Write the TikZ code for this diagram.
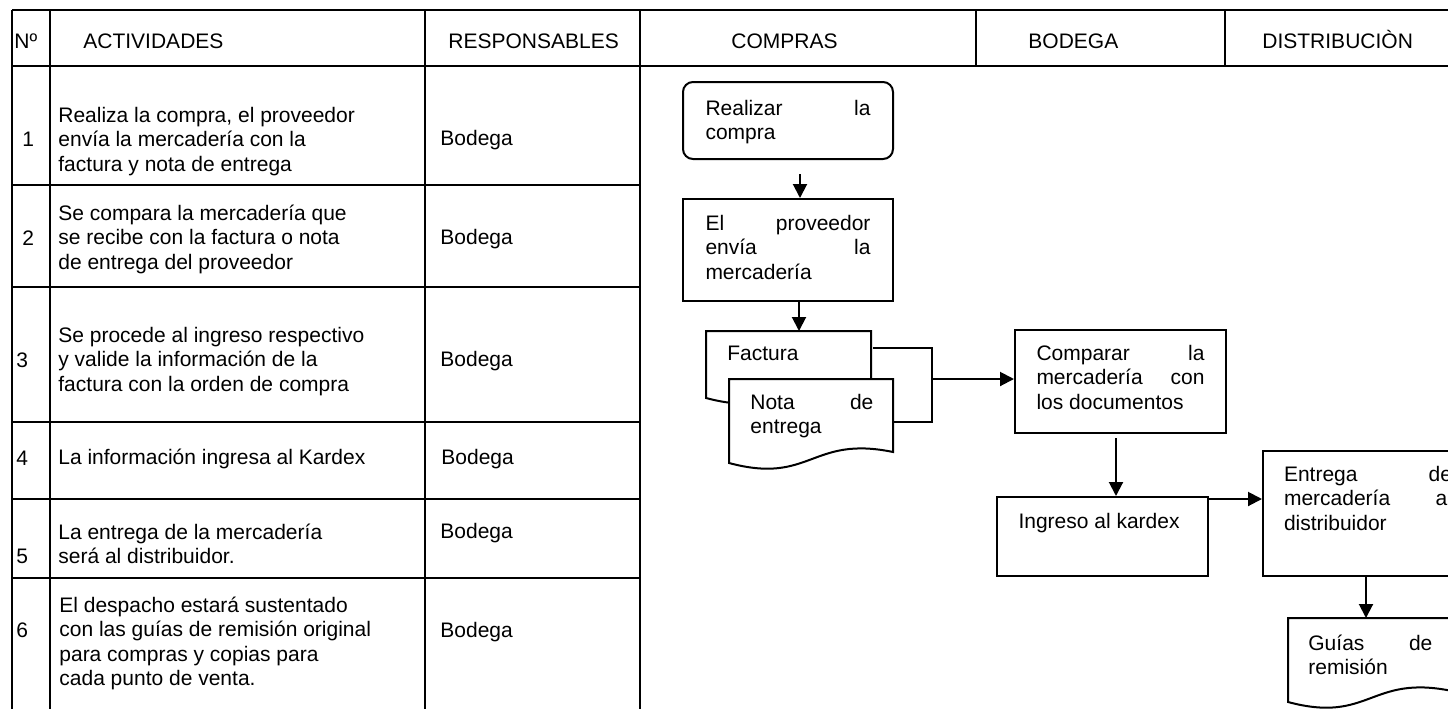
\documentclass[tikz,border=0pt]{standalone}
\usepackage{fontspec}
\setmainfont{Liberation Sans}
\usetikzlibrary{arrows.meta}
% text block inside a flow box: width, height, first-baseline offset, text
\newcommand\boxtext[4]{\parbox[c][#2][t]{#1}{\rule{0pt}{#3}#4}}
% text block inside a document symbol
\newcommand\doctext[2]{\parbox[t]{#1}{\strut #2}}
\begin{document}
\begin{tikzpicture}[x=0.5pt,y=-0.5pt,
  font=\fontsize{10.5}{12.25}\selectfont,
  rule/.style={line width=1pt},
  lbl/.style={anchor=base west,inner sep=0pt},
  cell/.style={anchor=north west,inner sep=0pt,align=left},
  flowbox/.style={draw,line width=1pt,fill=white,inner sep=0pt},
  docshape/.style={draw,line width=1pt,fill=white},
  arr/.style={line width=1pt,-{Triangle[length=7pt,width=7pt]}}]
\useasboundingbox (0,0) rectangle (1448,708);
\clip (0,0) rectangle (1448,708);

% ---- table grid ----
\draw[rule] (12,10) -- (1460,10);
\draw[line width=1.4pt] (12,66) -- (1460,66);
\draw[rule] (12,10) -- (12,720);
\draw[rule] (50,10) -- (50,720);
\draw[rule] (425,10) -- (425,720);
\draw[rule] (640,10) -- (640,720);
\draw[rule] (976,10) -- (976,66);
\draw[rule] (1225,10) -- (1225,66);
\foreach \y in {185,287,422,499,578} \draw[rule] (12,\y) -- (640,\y);

% ---- header ----
\node[lbl] (hno)   at (14,48.5)   {Nº};
\node[lbl] (hact)  at (83,48.5)   {ACTIVIDADES};
\node[lbl] (hresp) at (448,48.5)  {RESPONSABLES};
\node[lbl] (hcomp) at (731,48.5)  {COMPRAS};
\node[lbl] (hbod)  at (1028,48.5) {BODEGA};
\node[lbl] (hdist) at (1262,48.5) {DISTRIBUCIÒN};

% ---- step numbers ----
\node[lbl] (n1) at (22,146.5) {1};
\node[lbl] (n2) at (22,245.2) {2};
\node[lbl] (n3) at (16,367.5) {3};
\node[lbl] (n4) at (16,465.2) {4};
\node[lbl] (n5) at (16,563.2) {5};
\node[lbl] (n6) at (16,637.5) {6};

% ---- activities ----
\node[cell] (a1) at (58,104.85) {\strut Realiza la compra, el proveedor\\envía la mercadería con la\\factura y nota de entrega};
\node[cell] (a2) at (58,202.85) {\strut Se compara la mercadería que\\se recibe con la factura o nota\\de entrega del proveedor};
\node[cell] (a3) at (58,324.85) {\strut Se procede al ingreso respectivo\\y valide la información de la\\factura con la orden de compra};
\node[lbl]  (a4) at (58,464.7)  {La información ingresa al Kardex};
\node[cell] (a5) at (58,521.55) {\strut La entrega de la mercadería\\será al distribuidor.};
\node[cell] (a6) at (59,594.85) {\strut El despacho estará sustentado\\con las guías de remisión original\\para compras y copias para\\cada punto de venta.};

% ---- responsables ----
\node[lbl] (r1) at (440,145.5) {Bodega};
\node[lbl] (r2) at (440,244.7) {Bodega};
\node[lbl] (r3) at (440,366.6) {Bodega};
\node[lbl] (r4) at (441,464.5) {Bodega};
\node[lbl] (r5) at (440,538)   {Bodega};
\node[lbl] (r6) at (440,637)   {Bodega};

% ---- flow boxes ----
\node[flowbox,rounded corners=5pt,minimum width=105pt,minimum height=38.5pt] (buy) at (788,120.5)
  {\boxtext{82.5pt}{38.5pt}{16.5pt}{Realizar\hfill la\\compra}};
\node[flowbox,minimum width=105pt,minimum height=51pt] (send) at (788,250)
  {\boxtext{82.5pt}{51pt}{15.5pt}{El\hfill proveedor\\envía\hfill la\\mercadería}};
\node[flowbox,minimum width=105.5pt,minimum height=51.5pt] (check) at (1120.5,381.5)
  {\boxtext{84pt}{51.5pt}{15pt}{Comparar\hfill la\\mercadería\hfill con\\los documentos}};
\node[flowbox,minimum width=105.5pt,minimum height=39.5pt] (kardex) at (1102.5,536.5)
  {\boxtext{84pt}{39.5pt}{15.5pt}{Ingreso al kardex}};
\node[flowbox,minimum width=105pt,minimum height=62.5pt] (deliver) at (1368,513.5)
  {\boxtext{84pt}{62.5pt}{15pt}{Entrega\hfill de\\mercadería\hfill al\\distribuidor}};

% ---- document symbols ----
\coordinate (invtop) at (706,331);
\draw[docshape] (706,331) -- (871,331) -- (871,387) .. controls (788.5,370) and (788.5,420) .. (706,398) -- cycle;
\node[cell] (inv) at (727,342.85) {\strut Factura};
\draw[docshape] (729,379) -- (893,379) -- (893,452) .. controls (811,435) and (811,485) .. (729,463) -- cycle;
\node[cell] (note) at (750,391.85) {\doctext{61.5pt}{Nota\hfill de\\entrega}};
\coordinate (guidetop) at (1288,618);
\draw[docshape] (1288,618) -- (1452,618) -- (1452,691) .. controls (1370,674) and (1370,724) .. (1288,702) -- cycle;
\node[cell] (guide) at (1308,632.85) {\doctext{62pt}{Guías\hfill de\\remisión}};

% ---- bracket joining both documents ----
\coordinate (invR) at (873,348);
\coordinate (noteR) at (894,422);
\coordinate (join) at (932,379);
\draw[rule] (invR) -| (join) |- (noteR);

% ---- connectors ----
\draw[arr,shorten <=7pt] ([xshift=6pt]buy.south) -- ([xshift=6pt]send.north);
\draw[arr] ([xshift=5.5pt]send.south) -- ([xshift=5.5pt]send.south |- invtop);
\draw[arr] (join) -- (join -| check.west);
\draw[arr,shorten <=2pt] ([xshift=-2.25pt]check.south) -- ([xshift=-2.25pt]check.south |- kardex.north);
\draw[arr] ([yshift=-1.5pt]kardex.north east) -- ([yshift=-1.5pt]kardex.north east -| deliver.west);
\draw[arr] ([xshift=-1pt]deliver.south) -- ([xshift=-1pt]deliver.south |- guidetop);
\end{tikzpicture}
\end{document}
